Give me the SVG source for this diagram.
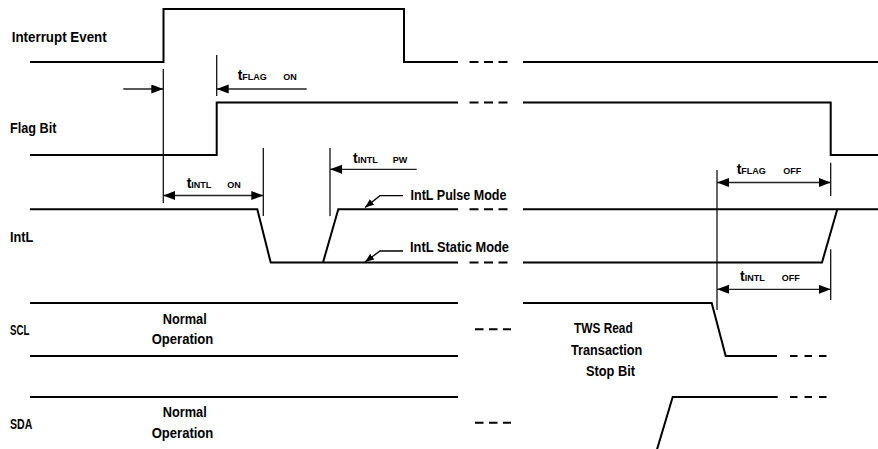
<svg xmlns="http://www.w3.org/2000/svg" width="878" height="449" viewBox="0 0 878 449">
<style>
  .wave{fill:none;stroke:#000;stroke-width:2;stroke-linejoin:miter}
  .dash{fill:none;stroke:#000;stroke-width:2;stroke-dasharray:9 5.5}
  .dash2{fill:none;stroke:#000;stroke-width:2;stroke-dasharray:8.5 5.5}
  .dash3{fill:none;stroke:#000;stroke-width:2;stroke-dasharray:7.5 7}
  .ext{fill:none;stroke:#111;stroke-width:1.3}
  .dim{fill:none;stroke:#222;stroke-width:1.3}
  .lead{fill:none;stroke:#000;stroke-width:1.3}
  .lbl{font-family:"Liberation Sans",Arial,sans-serif;font-weight:bold;font-size:14px;fill:#000}
  .dl{font-family:"Liberation Sans",Arial,sans-serif;font-weight:bold;fill:#000}
  .t{font-size:14px}
  .s{font-size:9px}
</style>
<defs>
  <marker id="ah" markerUnits="userSpaceOnUse" markerWidth="13" markerHeight="10" refX="12" refY="4.5" orient="auto-start-reverse">
    <path d="M0,0 L12,4.5 L0,9 z" fill="#000"/>
  </marker>
  <marker id="ahs" markerUnits="userSpaceOnUse" markerWidth="10" markerHeight="8" refX="9" refY="3.5" orient="auto">
    <path d="M0,0 L9,3.5 L0,7 z" fill="#000"/>
  </marker>
</defs>

<g id="interrupt-event">
  <text class="lbl" x="11.7" y="42" textLength="95" lengthAdjust="spacingAndGlyphs">Interrupt Event</text>
  <polyline class="wave" points="30,62 163.5,62 163.5,9 404,9 404,62 458,62"/>
  <line class="dash" x1="469.5" y1="62" x2="507.5" y2="62"/>
  <line class="wave" x1="523" y1="62" x2="878" y2="62"/>
</g>

<g id="flag-bit">
  <text class="lbl" x="10" y="132.5" textLength="46.5" lengthAdjust="spacingAndGlyphs">Flag Bit</text>
  <polyline class="wave" points="30,155 216.7,155 216.7,102.5 458,102.5"/>
  <line class="dash" x1="469.5" y1="102.5" x2="507.5" y2="102.5"/>
  <polyline class="wave" points="523,102.5 830.7,102.5 830.7,155 878,155"/>
</g>

<g id="intl">
  <text class="lbl" x="10" y="241.7" textLength="23.3" lengthAdjust="spacingAndGlyphs">IntL</text>
  <polyline class="wave" points="30,209.3 257.3,209.3 270.7,262.5 458,262.5"/>
  <line class="dash" x1="469.5" y1="262.5" x2="507.5" y2="262.5"/>
  <polyline class="wave" points="523,262.5 822,262.5 837.3,209.3"/>
  <polyline class="wave" points="323,262.5 338.3,209.3 458,209.3"/>
  <line class="dash" x1="469.5" y1="209.3" x2="507.5" y2="209.3"/>
  <line class="wave" x1="523" y1="209.3" x2="878" y2="209.3"/>
</g>

<g id="intl-pulse-mode">
  <text class="lbl" x="410.5" y="200" textLength="96" lengthAdjust="spacingAndGlyphs">IntL Pulse Mode</text>
</g>
<g id="intl-static-mode">
  <text class="lbl" x="410" y="252.3" textLength="99" lengthAdjust="spacingAndGlyphs">IntL Static Mode</text>
</g>

<g id="scl">
  <text class="lbl" x="10" y="335" textLength="19.3" lengthAdjust="spacingAndGlyphs">SCL</text>
  <text class="lbl" x="162.7" y="324" textLength="44" lengthAdjust="spacingAndGlyphs">Normal</text>
  <text class="lbl" x="151.7" y="344" textLength="61.6" lengthAdjust="spacingAndGlyphs">Operation</text>
  <line class="wave" x1="30" y1="303" x2="458" y2="303"/>
  <line class="wave" x1="30" y1="356" x2="458" y2="356"/>
  <line class="dash2" x1="475" y1="329.3" x2="511" y2="329.3"/>
  <polyline class="wave" points="523,303 711.7,303 725.7,356 777,356"/>
  <line class="dash3" x1="790" y1="356" x2="827.5" y2="356"/>
</g>

<g id="sda">
  <text class="lbl" x="10" y="429" textLength="22.3" lengthAdjust="spacingAndGlyphs">SDA</text>
  <text class="lbl" x="162.7" y="417.3" textLength="44" lengthAdjust="spacingAndGlyphs">Normal</text>
  <text class="lbl" x="151.7" y="438.3" textLength="61.6" lengthAdjust="spacingAndGlyphs">Operation</text>
  <line class="wave" x1="30" y1="397" x2="458" y2="397"/>
  <line class="dash2" x1="475" y1="422.7" x2="511" y2="422.7"/>
  <polyline class="wave" points="657,449.5 672.7,397 777.7,397"/>
  <line class="dash3" x1="790" y1="397" x2="827.5" y2="397"/>
</g>

<g id="tws-read">
  <text class="lbl" x="574" y="332.7" textLength="58.7" lengthAdjust="spacingAndGlyphs">TWS Read</text>
  <text class="lbl" x="571" y="355" textLength="71.3" lengthAdjust="spacingAndGlyphs">Transaction</text>
  <text class="lbl" x="586" y="376" textLength="49" lengthAdjust="spacingAndGlyphs">Stop Bit</text>
</g>

<g id="tflag-on">
  <text class="dl" x="237.7" y="80"><tspan class="t">t</tspan><tspan class="s">FLAG </tspan><tspan class="s" x="283.3">ON</tspan></text>
</g>
<g id="tintl-on">
  <text class="dl" x="186.7" y="188.3"><tspan class="t">t</tspan><tspan class="s">INTL </tspan><tspan class="s" x="227.3">ON</tspan></text>
</g>
<g id="tintl-pw">
  <text class="dl" x="353" y="163.3"><tspan class="t">t</tspan><tspan class="s">INTL </tspan><tspan class="s" x="392.7">PW</tspan></text>
</g>
<g id="tflag-off">
  <text class="dl" x="736.7" y="174"><tspan class="t">t</tspan><tspan class="s">FLAG </tspan><tspan class="s" x="783.3">OFF</tspan></text>
</g>
<g id="tintl-off">
  <text class="dl" x="740" y="280.7"><tspan class="t">t</tspan><tspan class="s">INTL </tspan><tspan class="s" x="781.7">OFF</tspan></text>
</g>

<g id="connectors">
  <line class="ext" x1="163.3" y1="69" x2="163.3" y2="203"/>
  <line class="ext" x1="216.7" y1="55" x2="216.7" y2="96"/>
  <line class="ext" x1="263.3" y1="148" x2="263.3" y2="216"/>
  <line class="ext" x1="330" y1="148" x2="330" y2="216"/>
  <line class="ext" x1="717" y1="170" x2="717" y2="310"/>
  <line class="ext" x1="830.7" y1="162.7" x2="830.7" y2="196"/>
  <line class="ext" x1="830.7" y1="249.3" x2="830.7" y2="300"/>

  <line class="dim" x1="123.3" y1="89" x2="163.3" y2="89" marker-end="url(#ah)"/>
  <line class="dim" x1="306.7" y1="89" x2="216.7" y2="89" marker-end="url(#ah)"/>
  <line class="dim" x1="163.3" y1="195.5" x2="263.3" y2="195.5" marker-start="url(#ah)" marker-end="url(#ah)"/>
  <line class="dim" x1="416.7" y1="169.3" x2="330" y2="169.3" marker-end="url(#ah)"/>
  <line class="dim" x1="717" y1="182.5" x2="830.7" y2="182.5" marker-start="url(#ah)" marker-end="url(#ah)"/>
  <line class="dim" x1="717" y1="289.3" x2="830.7" y2="289.3" marker-start="url(#ah)" marker-end="url(#ah)"/>

  <polyline class="lead" points="403,195.7 380,195.7 365,207.5" marker-end="url(#ahs)"/>
  <polyline class="lead" points="403,251 380,251 365,262" marker-end="url(#ahs)"/>
</g>
</svg>
